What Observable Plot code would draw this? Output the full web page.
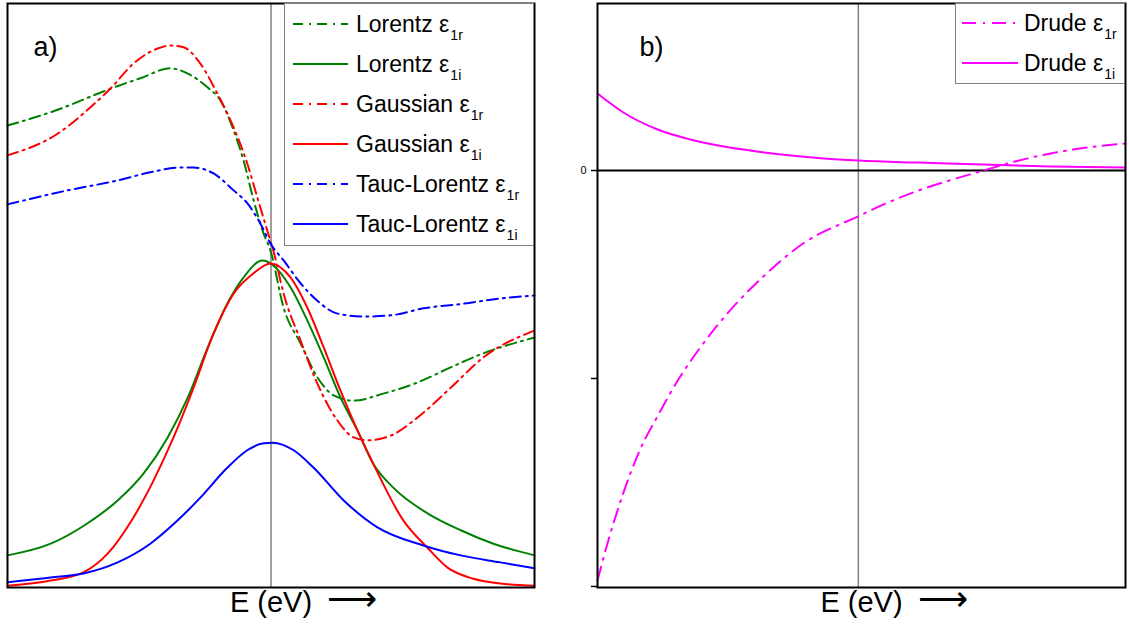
<!DOCTYPE html>
<html><head><meta charset="utf-8">
<script src="https://cdn.jsdelivr.net/npm/d3@7"></script>
<script src="https://cdn.jsdelivr.net/npm/@observablehq/plot@0.6"></script>
<style>
body{margin:0;background:#fff;font-family:"Liberation Sans",Arial,sans-serif;}
#wrap{position:relative;width:1129px;height:632px;overflow:hidden;background:#fff}
.panel{position:absolute;top:0}
.legend{position:absolute;background:#fff;border:1.5px solid #7f7f7f;box-sizing:border-box;font-size:23px;color:#000}
.row{position:absolute;left:0;height:40px;display:flex;align-items:center;white-space:nowrap}
.row svg{display:block}
.lab{position:relative;line-height:1}
.lab sub{font-size:14px;vertical-align:baseline;position:relative;top:8px;margin-left:1px}
</style></head>
<body><div id="wrap"></div>
<script>
// ---------- Panel a) data (E in arbitrary units 0..10, value in arbitrary units 0..100)
const lorentzReE = [0,0.95,1.95,2.52,3.09,3.42,3.80,4.04,4.29,4.48,4.67,4.86,4.99,5.24,5.56,5.88,6.19,6.57,7.13,7.78,8.41,9.03,10];
const lorentzReV = [79.1,81.8,85.4,87.2,88.9,88.0,85.6,83.4,78.3,73.1,66.3,60.6,57.7,47.9,41.8,36.0,32.9,32.0,33.2,35.1,37.7,40.1,42.8];
const lorentzImE = [0,0.82,1.52,2.09,2.58,3.04,3.42,3.80,4.17,4.48,4.84,5.05,5.37,5.69,6.00,6.32,6.64,6.94,7.32,7.97,8.60,9.22,10];
const lorentzImV = [5.5,7.5,11.0,14.9,19.5,25.7,32.5,41.1,48.6,53.1,56.0,55.1,51.4,45.7,39.4,32.5,26.9,21.2,17.1,12.7,9.8,7.5,5.5];
const gaussReE = [0,0.95,1.57,1.95,2.39,2.85,3.09,3.34,3.66,3.98,4.29,4.55,4.74,4.93,5.05,5.24,5.56,5.88,6.26,6.57,6.83,7.27,7.78,8.41,9.03,10];
const gaussReV = [74.0,77.7,82.2,85.4,89.7,92.3,92.8,92.5,89.7,84.6,78.8,72.6,66.8,61.1,57.5,50.3,42.3,34.9,28.6,25.7,25.2,26.0,29.1,34.2,39.4,44.0];
const gaussImE = [0,0.82,1.44,1.90,2.39,2.77,3.15,3.53,3.91,4.29,4.67,4.99,5.37,5.69,6.00,6.32,6.64,6.94,7.51,7.97,8.35,8.84,9.35,10];
const gaussImV = [0.3,1.2,2.6,5.8,12.0,18.3,25.7,34.2,43.5,50.3,53.8,55.5,53.1,47.9,41.1,33.7,26.9,21.2,11.5,6.8,3.4,1.5,0.7,0.3];
const taucReE = [0,1.14,2.09,2.71,3.28,3.53,3.91,4.29,4.55,4.80,4.99,5.24,5.56,5.88,6.26,6.76,7.27,7.89,8.65,9.35,10];
const taucReV = [65.6,68.0,69.7,71.1,71.9,71.9,70.9,68.0,65.8,62.3,58.9,56.0,52.1,49.1,46.9,46.4,46.6,47.8,48.6,49.5,50.0];
const taucImE = [0,0.82,1.44,2.09,2.71,3.23,3.66,4.17,4.55,4.86,5.03,5.43,5.81,6.38,7.02,7.89,8.60,9.35,10];
const taucImV = [0.9,1.7,2.4,4.3,7.5,11.5,15.4,20.5,23.5,24.7,24.8,23.5,20.5,14.9,10.3,7.2,5.5,4.3,3.3];
const centerA = 5;

// ---------- Panel b) data
const drudeReE = [0,0.17,0.49,0.81,1.14,1.52,1.95,2.52,3.14,3.90,4.94,5.42,6.06,6.69,7.31,7.95,8.58,9.20,10];
const drudeReV = [-1.97,-1.81,-1.55,-1.34,-1.18,-1.01,-0.85,-0.67,-0.51,-0.35,-0.22,-0.163,-0.098,-0.046,0,0.046,0.082,0.108,0.130];
const drudeImE = [0,0.49,1.14,1.76,2.39,3.03,3.66,4.28,4.94,6.06,7.31,8.58,10];
const drudeImV = [0.370,0.279,0.197,0.149,0.115,0.091,0.072,0.058,0.048,0.038,0.029,0.019,0.014];
const centerB = 4.94;
const yTicksB = [0,-1,-2];

// series descriptions
const seriesA = [
  {name:"Lorentz", sub:"1r", E:lorentzReE, V:lorentzReV, color:"#008000", dash:true},
  {name:"Lorentz", sub:"1i", E:lorentzImE, V:lorentzImV, color:"#008000", dash:false},
  {name:"Gaussian", sub:"1r", E:gaussReE, V:gaussReV, color:"#ff0000", dash:true},
  {name:"Gaussian", sub:"1i", E:gaussImE, V:gaussImV, color:"#ff0000", dash:false},
  {name:"Tauc-Lorentz", sub:"1r", E:taucReE, V:taucReV, color:"#0000ff", dash:true},
  {name:"Tauc-Lorentz", sub:"1i", E:taucImE, V:taucImV, color:"#0000ff", dash:false}
];
const seriesB = [
  {name:"Drude", sub:"1r", E:drudeReE, V:drudeReV, color:"#ff00ff", dash:true},
  {name:"Drude", sub:"1i", E:drudeImE, V:drudeImV, color:"#ff00ff", dash:false}
];
const dashA = "11,5,2,5", dashB = "14,7,2,7";
const font = "Liberation Sans, Arial, sans-serif";

function lineMarks(series, dashPattern){
  return series.map(s => Plot.line(s.E.map((e,i)=>({E:e, v:s.V[i]})), {
    x:"E", y:"v", stroke:s.color, strokeWidth:2, curve:"monotone-x",
    strokeDasharray: s.dash ? dashPattern : null
  }));
}
function axisLabel(){
  return [
    Plot.text(["E (eV)"], {frameAnchor:"bottom", dy:24, fontSize:29, fontFamily:font, fill:"#000"}),
    Plot.text(["⟶"], {frameAnchor:"bottom", dx:81, dy:23, fontSize:35, fontWeight:200, fontFamily:"DejaVu Sans", fill:"#000"})
  ];
}

const wrap = document.getElementById("wrap");

const plotA = Plot.plot({
  width:545, height:632,
  marginLeft:7, marginRight:11, marginTop:3, marginBottom:45,
  x:{domain:[0,10], axis:null},
  y:{domain:[0,100], axis:null},
  style:{background:"transparent", overflow:"visible", fontFamily:font},
  marks:[
    Plot.ruleX([centerA], {stroke:"#808080", strokeWidth:1.5}),
    ...lineMarks(seriesA, dashA),
    Plot.frame({stroke:"#000", strokeWidth:2}),
    Plot.text(["a)"], {frameAnchor:"top-left", dx:26, dy:33, fontSize:27, fontFamily:font, fill:"#000"}),
    ...axisLabel()
  ]
});
plotA.classList.add("panel"); plotA.style.left = "0px";
wrap.appendChild(plotA);

const plotB = Plot.plot({
  width:569, height:632,
  marginLeft:37, marginRight:4, marginTop:3, marginBottom:45,
  x:{domain:[0,10], axis:null},
  y:{domain:[-2.005,0.803], axis:null},
  style:{background:"transparent", overflow:"visible", fontFamily:font},
  marks:[
    Plot.ruleX([centerB], {stroke:"#808080", strokeWidth:1.5}),
    Plot.ruleY([0], {stroke:"#000", strokeWidth:2}),
    Plot.axisY({ticks:yTicksB, label:null, tickSize:6, tickPadding:5, tickFormat:d => d===0 ? "0" : "", fontSize:11, stroke:"#000", strokeWidth:1.5}),
    ...lineMarks(seriesB, dashB),
    Plot.frame({stroke:"#000", strokeWidth:2}),
    Plot.text(["b)"], {frameAnchor:"top-left", dx:42, dy:33, fontSize:27, fontFamily:font, fill:"#000"}),
    ...axisLabel()
  ]
});
plotB.classList.add("panel"); plotB.style.left = "560px";
wrap.appendChild(plotB);

// legends (built from the series descriptions)
function legend(series, dashPattern, box, rowTop, lineX, lineW, textX){
  const div = d3.select(wrap).append("div").attr("class","legend")
    .style("left", box.left+"px").style("top", box.top+"px")
    .style("width", box.width+"px").style("height", box.height+"px");
  series.forEach((s,i) => {
    const row = div.append("div").attr("class","row").style("top", (rowTop + i*40 - 20)+"px").style("left", lineX+"px");
    const svg = row.append("svg").attr("width", lineW).attr("height", 6);
    svg.append("line").attr("x1",0).attr("x2",lineW).attr("y1",3).attr("y2",3)
      .attr("stroke", s.color).attr("stroke-width", 2)
      .attr("stroke-dasharray", s.dash ? dashPattern : null);
    const lab = row.append("span").attr("class","lab").style("margin-left", (textX - lineX - lineW)+"px");
    lab.append("span").text(s.name + " ε");
    lab.append("sub").text(s.sub);
  });
}
legend(seriesA, "10,6,2,6", {left:284, top:3, width:250, height:243}, 20, 8, 55, 71);
legend(seriesB, "14,7,2,7", {left:955, top:3, width:170, height:81}, 19, 6, 56, 68);
</script>
</body></html>
